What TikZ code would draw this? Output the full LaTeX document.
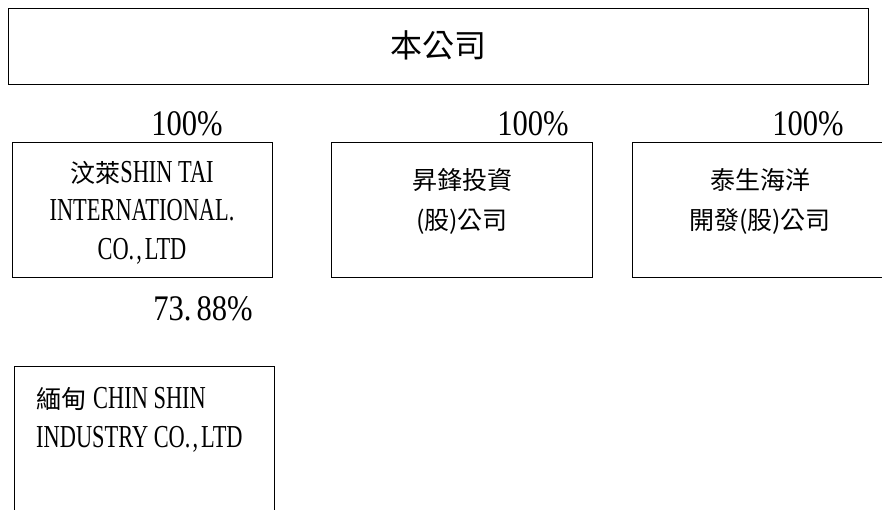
\documentclass[tikz,border=0pt]{standalone}
\usepackage{fontspec}
\newfontfamily\cjk{Noto Sans CJK TC}
\newfontfamily\latn{Liberation Serif}[FakeStretch=0.7]
\newfontfamily\pctf{Liberation Serif}[FakeStretch=0.85]
\newcommand\zh[1]{{\cjk\fontsize{25}{30}\selectfont #1}}
\newcommand\zhbig[1]{{\cjk\fontsize{32}{38}\selectfont #1}}
\newcommand\la[1]{{\latn\fontsize{32}{38}\selectfont #1}}
\newcommand\coltd{CO.\kern2pt,\kern3pt LTD}
\begin{document}
\begin{tikzpicture}[x=1pt,y=-1pt,
  box/.style={draw=black, line width=1.3pt, inner sep=0pt, anchor=north west},
  lbl/.style={anchor=base, inner sep=0pt},
  lblw/.style={anchor=base west, inner sep=0pt},
  pct/.style={anchor=base, inner sep=0pt, font=\pctf\fontsize{36}{40}\selectfont}]
\useasboundingbox (0,0) rectangle (882,510);
\fill[white] (0,0) rectangle (882,510);
% boxes
\node[box, minimum width=860pt, minimum height=76pt] (topbox) at (8,8) {};
\node[box, minimum width=260pt, minimum height=135pt] (box1) at (12,142) {};
\node[box, minimum width=261pt, minimum height=135pt] (box2) at (331,142) {};
\node[box, minimum width=270pt, minimum height=135pt] (box3) at (632,142) {};
\node[box, minimum width=260pt, minimum height=160pt] (box4) at (14,366) {};
% title
\node[lbl] (title) at (438,58) {\zhbig{本公司}};
% percentages
\node[pct] (p1) at (187,136) {100\%};
\node[pct] (p2) at (533,136) {100\%};
\node[pct] (p3) at (808,136) {100\%};
\node[pct] (p4) at (203,320) {73.\kern5pt 88\%};
% box 1 text
\node[lbl] (b1a) at (142,183) {\zh{汶萊}\la{SHIN TAI}};
\node[lbl] (b1b) at (142,221) {\la{INTERNATIONAL.}};
\node[lbl] (b1c) at (142,260) {\la{\coltd}};
% box 2 text
\node[lbl] (b2a) at (462,190) {\zh{昇鋒投資}};
\node[lbl] (b2b) at (462,230) {\zh{(股)公司}};
% box 3 text
\node[lbl] (b3a) at (760,190) {\zh{泰生海洋}};
\node[lbl] (b3b) at (760,230) {\zh{開發(股)公司}};
% box 4 text
\node[lblw] (b4a) at (36,408) {\zh{緬甸}\hspace{7pt}\la{CHIN SHIN}};
\node[lblw] (b4b) at (36,447) {\la{INDUSTRY \coltd}};
\end{tikzpicture}
\end{document}
